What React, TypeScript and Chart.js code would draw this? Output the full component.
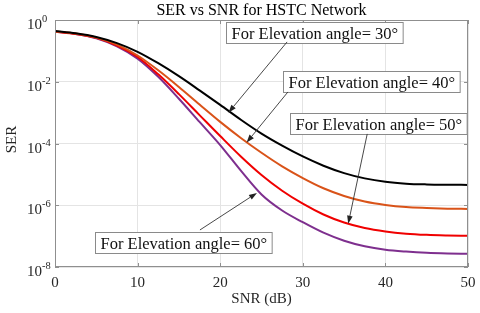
import React, { useEffect, useRef } from 'react';
import { Chart, registerables } from 'chart.js';

Chart.register(...registerables);

const FONT = '"Liberation Serif", "Times New Roman", serif';

const snrDb = [0, 2.5, 5, 7.5, 10, 12.5, 15, 17.5, 20, 22.5, 25, 27.5, 30, 32.5, 35, 37.5, 40, 42.5, 45, 47.5, 50];
const ser30 = [0.4365, 0.3715, 0.2818, 0.1778, 0.0933, 0.0398, 0.01514, 5.25e-3, 1.78e-3, 5.89e-4, 2.09e-4, 8.51e-5, 3.8e-5, 1.91e-5, 1.1e-5, 7.41e-6, 5.75e-6, 5.01e-6, 4.73e-6, 4.62e-6, 4.57e-6];
const ser40 = [0.4266, 0.3631, 0.2692, 0.1585, 0.0708, 0.02344, 6.76e-3, 1.82e-3, 5.01e-4, 1.51e-4, 5.01e-5, 1.82e-5, 7.59e-6, 3.55e-6, 2.0e-6, 1.32e-6, 1.02e-6, 8.71e-7, 8.13e-7, 7.76e-7, 7.59e-7];
const ser50 = [0.4169, 0.3548, 0.263, 0.1479, 0.0631, 0.01738, 3.98e-3, 8.32e-4, 1.74e-4, 3.8e-5, 9.55e-6, 2.95e-6, 1.12e-6, 5.01e-7, 2.75e-7, 1.82e-7, 1.41e-7, 1.2e-7, 1.1e-7, 1.05e-7, 1.02e-7];
const ser60 = [0.4169, 0.3548, 0.257, 0.1413, 0.0562, 0.01445, 2.82e-3, 5.01e-4, 8.91e-5, 1.32e-5, 2.24e-6, 6.76e-7, 2.82e-7, 1.29e-7, 7.08e-8, 4.68e-8, 3.63e-8, 3.16e-8, 2.88e-8, 2.75e-8, 2.69e-8];

const xTicks = [0, 10, 20, 30, 40, 50];
const yTickExps = [0, -2, -4, -6, -8];

const titleText = 'SER vs SNR for HSTC Network';
const xLabel = 'SNR (dB)';
const yLabel = 'SER';

const seriesNames = ['For Elevation angle= 30°', 'For Elevation angle= 40°', 'For Elevation angle= 50°', 'For Elevation angle= 60°'];
const seriesColors = ['#000000', '#D95319', '#F00000', '#7E2F8E'];

// annotation anchors in data units (box left/center, arrow tail, arrow tip)
const noteBoxX = [20.7, 27.6, 28.45, 4.84];
const noteBoxY = [10 ** -0.39, 10 ** -1.98, 10 ** -3.35, 10 ** -7.22];
const noteTailX = [28.1, 28.2, 37.8, 17.55];
const noteTailY = [10 ** -0.71, 10 ** -2.33, 10 ** -3.69, 10 ** -6.8];
const noteTipX = [21.0, 23.2, 35.5, 24.45];
const noteTipY = [10 ** -3.0, 10 ** -3.97, 10 ** -6.6, 10 ** -5.6];

export default function App() {
  const ref = useRef<HTMLCanvasElement>(null);

  useEffect(() => {
    const canvas = ref.current;
    if (!canvas) return;

    const decorations = {
      id: 'decorations',
      afterDraw(chart: any) {
        const { ctx, chartArea: a, scales } = chart;
        const xs = scales.x;
        const ys = scales.y;
        ctx.save();

        // axes box
        ctx.strokeStyle = '#8f8f8f';
        ctx.lineWidth = 1;
        ctx.strokeRect(a.left + 0.5, a.top + 0.5, a.right - a.left - 1, a.bottom - a.top - 1);

        // inward ticks
        ctx.beginPath();
        for (const t of xTicks) {
          const px = Math.round(xs.getPixelForValue(t)) + 0.5;
          ctx.moveTo(px, a.bottom);
          ctx.lineTo(px, a.bottom - 4);
          ctx.moveTo(px, a.top);
          ctx.lineTo(px, a.top + 4);
        }
        for (const e of yTickExps) {
          const py = Math.round(ys.getPixelForValue(10 ** e)) + 0.5;
          ctx.moveTo(a.left, py);
          ctx.lineTo(a.left + 4, py);
          ctx.moveTo(a.right, py);
          ctx.lineTo(a.right - 4, py);
        }
        ctx.stroke();

        ctx.fillStyle = '#262626';
        // x tick labels
        ctx.font = `15px ${FONT}`;
        ctx.textAlign = 'center';
        ctx.textBaseline = 'alphabetic';
        for (const t of xTicks) {
          ctx.fillText(String(t), xs.getPixelForValue(t), a.bottom + 20);
        }
        // y tick labels with superscript exponent
        for (const e of yTickExps) {
          const py = ys.getPixelForValue(10 ** e);
          ctx.font = `15px ${FONT}`;
          ctx.textAlign = 'right';
          ctx.fillText('10', a.left - 13, py + 9);
          ctx.font = `10.5px ${FONT}`;
          ctx.textAlign = 'left';
          ctx.fillText(e === 0 ? '0' : '-' + String(-e), a.left - 13, py + 2);
        }

        // axis titles
        ctx.font = `15px ${FONT}`;
        ctx.textAlign = 'center';
        ctx.fillText(xLabel, (a.left + a.right) / 2, a.bottom + 36);
        ctx.save();
        ctx.translate(16, (a.top + a.bottom) / 2 - 4);
        ctx.rotate(-Math.PI / 2);
        ctx.fillText(yLabel, 0, 0);
        ctx.restore();

        // title
        ctx.fillStyle = '#000';
        ctx.font = `16px ${FONT}`;
        ctx.fillText(titleText, (a.left + a.right) / 2, a.top - 5);

        // annotations
        for (let i = 0; i < seriesNames.length; i++) {
          const text = seriesNames[i];
          ctx.font = `16.5px ${FONT}`;
          const w = ctx.measureText(text).width + 10;
          const left = Math.round(xs.getPixelForValue(noteBoxX[i])) + 0.5;
          const cy = ys.getPixelForValue(noteBoxY[i]);
          const h = 21;
          const top = Math.round(cy - h / 2) + 0.5;
          ctx.fillStyle = '#ffffff';
          ctx.fillRect(left, top, w, h);
          ctx.strokeStyle = '#8a8a8a';
          ctx.lineWidth = 1;
          ctx.strokeRect(left, top, w, h);
          ctx.fillStyle = '#111';
          ctx.textAlign = 'left';
          ctx.fillText(text, left + 5, top + 16);

          // arrow
          const tx = xs.getPixelForValue(noteTailX[i]);
          const ty = ys.getPixelForValue(noteTailY[i]);
          const hx = xs.getPixelForValue(noteTipX[i]);
          const hy = ys.getPixelForValue(noteTipY[i]);
          const ang = Math.atan2(hy - ty, hx - tx);
          const L = 8, W = 2.8;
          const bx = hx - L * Math.cos(ang);
          const by = hy - L * Math.sin(ang);
          ctx.strokeStyle = '#333';
          ctx.lineWidth = 0.9;
          ctx.beginPath();
          ctx.moveTo(tx, ty);
          ctx.lineTo(bx, by);
          ctx.stroke();
          ctx.fillStyle = '#222';
          ctx.beginPath();
          ctx.moveTo(hx, hy);
          ctx.lineTo(bx + W * Math.sin(ang), by - W * Math.cos(ang));
          ctx.lineTo(bx - W * Math.sin(ang), by + W * Math.cos(ang));
          ctx.closePath();
          ctx.fill();
        }
        ctx.restore();
      },
    };

    const allSeries = [ser30, ser40, ser50, ser60];
    const chart = new Chart(canvas, {
      type: 'line',
      data: {
        datasets: allSeries.map((s, i) => ({
          label: seriesNames[i],
          data: snrDb.map((x, j) => ({ x, y: s[j] })),
          borderColor: seriesColors[i],
          borderWidth: 2,
          pointRadius: 0,
          fill: false,
          cubicInterpolationMode: 'monotone' as const,
        })),
      },
      options: {
        animation: false,
        responsive: true,
        maintainAspectRatio: false,
        layout: { padding: { top: 20, right: 12, left: 0, bottom: 0 } },
        plugins: { legend: { display: false }, title: { display: false }, tooltip: { enabled: false } },
        scales: {
          x: {
            type: 'linear',
            min: 0,
            max: 50,
            ticks: { display: false, stepSize: 10 },
            grid: { color: '#e4e4e4', drawTicks: false },
            border: { display: false },
            afterFit: (s: any) => { s.height = 46; },
          },
          y: {
            type: 'logarithmic',
            min: 1e-8,
            max: 1,
            ticks: { display: false },
            afterBuildTicks: (s: any) => { s.ticks = yTickExps.map((e) => ({ value: 10 ** e })); },
            grid: { color: '#e4e4e4', drawTicks: false },
            border: { display: false },
            afterFit: (s: any) => { s.width = 55; },
          },
        },
      },
      plugins: [decorations],
    });
    return () => chart.destroy();
  }, []);

  return (
    <div style={{ position: 'absolute', left: 0, top: 0, width: 480, height: 313, background: '#fff' }}>
      <canvas ref={ref} />
    </div>
  );
}
